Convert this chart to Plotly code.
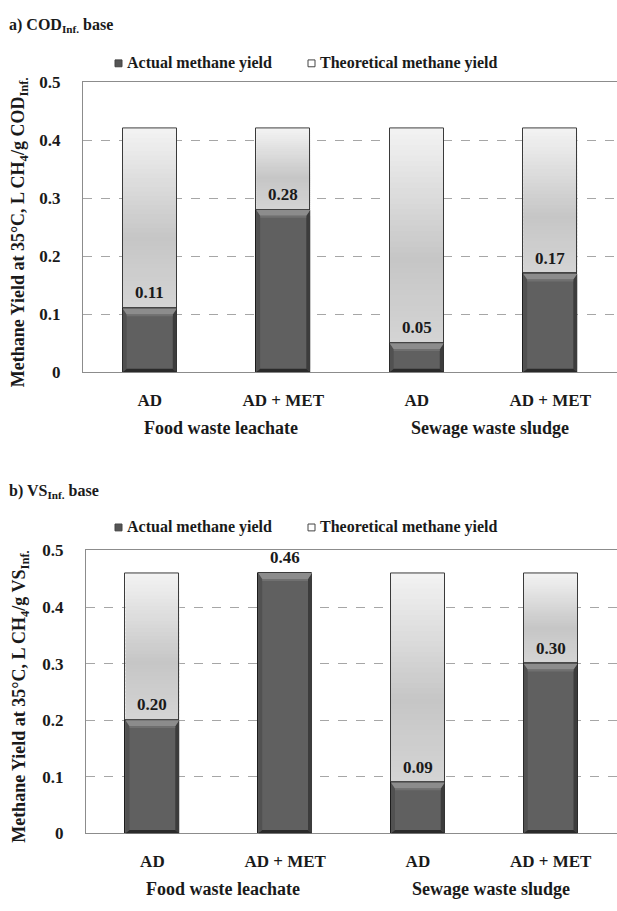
import plotly.graph_objects as go

# ---- data ----
treatments = ["AD", "AD + MET", "AD", "AD + MET"]
substrates = ["Food waste leachate", "Sewage waste sludge"]
actual_cod = [0.11, 0.28, 0.05, 0.17]
theoretical_cod = [0.42, 0.42, 0.42, 0.42]
actual_vs = [0.20, 0.46, 0.09, 0.30]
theoretical_vs = [0.46, 0.46, 0.46, 0.46]
y_ticks = [0, 0.1, 0.2, 0.3, 0.4, 0.5]
y_ticktext = ["0", "0.1", "0.2", "0.3", "0.4", "0.5"]
series_names = ["Actual methane yield", "Theoretical methane yield"]

W, H = 617, 911
FONT = "'Times New Roman', 'Liberation Serif', serif"
INK = "#1a1a1a"
BAR_W = 0.405

# plot-area pixel boxes (left, top, bottom) for the two panels
panels = [
    dict(left=83, top=75, bottom=371, actual=actual_cod, theo=theoretical_cod,
         title="a) COD<sub>Inf.</sub> base", title_y=17, legend_y=55,
         ytitle="Methane Yield at 35°C, L CH<sub>4</sub>/g COD<sub>Inf.</sub>", ytitle_x=19),
    dict(left=86, top=553, bottom=842, actual=actual_vs, theo=theoretical_vs,
         title="b) VS<sub>Inf.</sub> base", title_y=493, legend_y=529,
         ytitle="Methane Yield at 35°C, L CH<sub>4</sub>/g VS<sub>Inf.</sub>", ytitle_x=21),
]

fig = go.Figure()
shapes = []
annotations = []
xpos = list(range(len(treatments)))


def lerp_gray(a, b, t):
    v = round(a + (b - a) * t)
    return f"rgb({v},{v},{v})"


def theo_color(t):
    # t = 0 at the top of the segment, 1 at the bottom
    if t < 0.6:
        return lerp_gray(243, 198, t / 0.6)
    return lerp_gray(198, 212, (t - 0.6) / 0.4)


def font(size):
    return dict(family=FONT, size=size, color=INK, weight="bold")


for k, p in enumerate(panels):
    sfx = "" if k == 0 else str(k + 1)
    xref, yref = "x" + sfx, "y" + sfx
    px_x = (W - p["left"]) / 4.0           # pixels per x unit
    px_y = (p["bottom"] - p["top"]) / 0.5  # pixels per y unit

    # theoretical segment (outline) sitting on top of the actual yield
    fig.add_trace(go.Bar(
        x=xpos, y=[t - a for a, t in zip(p["actual"], p["theo"])], base=p["actual"],
        width=BAR_W, marker=dict(color="rgba(0,0,0,0)", line=dict(color="#3a3a3a", width=1)),
        xaxis=xref, yaxis=yref, showlegend=False, name=series_names[1]))
    # actual yield
    fig.add_trace(go.Bar(
        x=xpos, y=p["actual"], width=BAR_W,
        marker=dict(color="#606060", line=dict(color="#1c1c1c", width=1)),
        xaxis=xref, yaxis=yref, showlegend=False, name=series_names[0]))

    n = 40
    s = 4.0 / px_x   # bevel side width in x units
    b = 6.0 / px_y   # bevel top height in y units
    sb = 3.5 / px_y  # bevel bottom height
    for i, (a, t) in enumerate(zip(p["actual"], p["theo"])):
        x0, x1 = i - BAR_W / 2, i + BAR_W / 2
        # vertical grey gradient of the theoretical segment
        if t > a:
            step = (t - a) / n
            for j in range(n):
                y_hi = t - j * step
                y_lo = max(a, y_hi - step * 1.6)
                shapes.append(dict(type="rect", xref=xref, yref=yref, layer="between",
                                   x0=x0, x1=x1, y0=y_lo, y1=y_hi,
                                   fillcolor=theo_color((j + 0.5) / n), line=dict(width=0)))

        # bevelled edges of the actual bar
        def poly(pts, color):
            path = "M " + " L ".join(f"{px},{py}" for px, py in pts) + " Z"
            shapes.append(dict(type="path", xref=xref, yref=yref, layer="above", path=path,
                               fillcolor=color, line=dict(width=0)))
        poly([(x0, a), (x0 + s, a - b), (x0 + s, sb), (x0, 0)], "#515151")
        poly([(x1, a), (x1 - s, a - b), (x1 - s, sb), (x1, 0)], "#3c3c3c")
        poly([(x0, 0), (x0 + s, sb), (x1 - s, sb), (x1, 0)], "#2a2a2a")
        poly([(x0, a), (x1, a), (x1 - s, a - b), (x0 + s, a - b)], "#8c8c8c")
        poly([(x0 + s, a - b), (x1 - s, a - b), (x1 - s, a - b - 2.0 / px_y),
              (x0 + s, a - b - 2.0 / px_y)], "#707070")

        # value label
        annotations.append(dict(xref=xref, yref=yref, x=i, y=a, text=f"{a:.2f}",
                                showarrow=False, yanchor="bottom", yshift=4, font=font(17)))

    # substrate group labels
    for name, gx in zip(substrates, [0.53, 2.55]):
        annotations.append(dict(xref=xref, yref="paper", x=gx, y=1 - (p["bottom"] + 57) / H,
                                text=name, showarrow=False, yanchor="middle", font=font(18)))

    # panel title
    annotations.append(dict(xref="paper", yref="paper", x=7 / W, y=1 - p["title_y"] / H,
                            xanchor="left", yanchor="middle", text=p["title"], showarrow=False,
                            font=font(16)))

    # legend: key squares + labels
    ly = p["legend_y"]
    for key_x, fill, label in [(115, "#555555", series_names[0]), (308, "#ffffff", series_names[1])]:
        shapes.append(dict(type="rect", xref="paper", yref="paper",
                           x0=key_x / W, x1=(key_x + 7) / W,
                           y0=1 - (ly + 4) / H, y1=1 - (ly - 3) / H,
                           fillcolor=fill, line=dict(color="#444444", width=1)))
        annotations.append(dict(xref="paper", yref="paper", x=(key_x + 10) / W, y=1 - ly / H,
                                xanchor="left", yanchor="middle", showarrow=False,
                                text=label, font=font(16)))

    # y-axis title
    annotations.append(dict(xref="paper", yref="paper", x=p["ytitle_x"] / W,
                            y=1 - ((p["top"] + p["bottom"]) / 2 + 5) / H,
                            textangle=-90, xanchor="center", yanchor="middle", showarrow=False,
                            text=p["ytitle"], font=font(18)))

    fig.update_layout(**{
        "xaxis" + sfx: dict(domain=[p["left"] / W, 1], anchor=yref, range=[-0.5, 3.5],
                            tickvals=xpos, ticktext=treatments, ticks="", ticklabelstandoff=12,
                            tickfont=font(17), showgrid=False, zeroline=False,
                            showline=True, mirror=True, linecolor="#8c8c8c", linewidth=1),
        "yaxis" + sfx: dict(domain=[1 - p["bottom"] / H, 1 - p["top"] / H], anchor=xref,
                            range=[0, 0.5], tickvals=y_ticks, ticktext=y_ticktext, ticks="",
                            ticklabelstandoff=18, tickfont=font(17),
                            showgrid=True, gridcolor="#a6a6a6", griddash="dash", gridwidth=1,
                            zeroline=False, showline=True, linecolor="#8c8c8c", linewidth=1),
    })

fig.update_layout(
    width=W, height=H, margin=dict(l=0, r=0, t=0, b=0),
    paper_bgcolor="white", plot_bgcolor="white",
    barmode="overlay", bargap=0, showlegend=False,
    shapes=shapes, annotations=annotations,
)

fig.write_html("out.html")
